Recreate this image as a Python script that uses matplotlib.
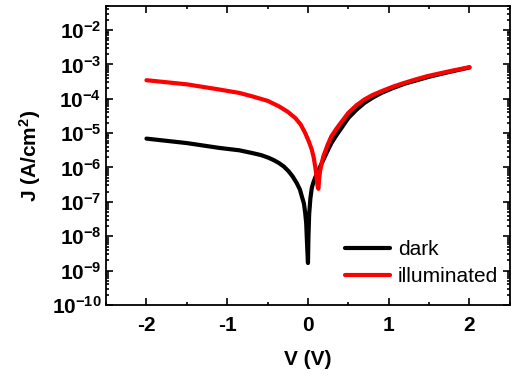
import numpy as np
import matplotlib
matplotlib.use("Agg")
from matplotlib import pyplot as plt
from matplotlib.ticker import MultipleLocator, LogLocator, NullFormatter

plt.rcParams['font.family'] = ['Liberation Sans', 'DejaVu Sans']
plt.rcParams['mathtext.fontset'] = 'custom'
plt.rcParams['mathtext.bf'] = 'Liberation Sans:bold'
plt.rcParams['mathtext.rm'] = 'Liberation Sans:bold'
plt.rcParams['mathtext.default'] = 'bf'
plt.rcParams['axes.unicode_minus'] = False

# dark J-V curve: V in volts, log10 of J (A/cm^2)
darkV = [-2.0, -1.5, -1.1, -0.85, -0.69, -0.58, -0.485, -0.42, -0.36, -0.3, -0.24, -0.19,
         -0.14, -0.1, -0.076, -0.05, -0.034, -0.022, -0.015, -0.008, 0.0, 0.006, 0.015,
         0.03, 0.047, 0.065, 0.088, 0.13, 0.17, 0.21, 0.25, 0.29, 0.35, 0.4, 0.5, 0.6,
         0.7, 0.8, 0.91, 1.05, 1.2, 1.35, 1.5, 1.75, 2.0]
darkLogJ = [-5.16, -5.29, -5.43, -5.50, -5.58, -5.64, -5.72, -5.79, -5.87, -5.97, -6.11,
            -6.26, -6.45, -6.64, -6.84, -7.05, -7.33, -7.62, -8.01, -8.40, -8.78, -8.0,
            -7.35, -6.9, -6.6, -6.45, -6.3, -6.08, -5.88, -5.68, -5.48, -5.29, -5.07,
            -4.9, -4.56, -4.32, -4.12, -3.97, -3.83, -3.69, -3.56, -3.46, -3.36, -3.22,
            -3.09]

# illuminated J-V curve
illumV = [-2.0, -1.5, -1.1, -0.85, -0.69, -0.5, -0.36, -0.25, -0.157, -0.09, -0.034,
          0.01, 0.047, 0.07, 0.088, 0.1, 0.11, 0.12, 0.129, 0.138, 0.15, 0.17, 0.19, 0.24,
          0.29, 0.35, 0.4, 0.5, 0.6, 0.7, 0.8, 0.91, 1.05, 1.19, 1.33, 1.48, 1.75, 2.0]
illumLogJ = [-3.46, -3.58, -3.73, -3.83, -3.93, -4.06, -4.22, -4.38, -4.56, -4.75, -5.0,
             -5.24, -5.48, -5.7, -5.95, -6.15, -6.38, -6.55, -6.62, -6.35, -6.1, -5.88,
             -5.68, -5.36, -5.09, -4.88, -4.72, -4.41, -4.19, -4.02, -3.89, -3.78, -3.65,
             -3.54, -3.44, -3.34, -3.2, -3.08]

darkJ = 10.0 ** np.array(darkLogJ)
illumJ = 10.0 ** np.array(illumLogJ)

fig = plt.figure(figsize=(5.15, 3.76), dpi=100)
ax = fig.add_axes([0.206, 0.189, 0.784, 0.795])

ax.plot(darkV, darkJ, color='black', lw=3, label='dark', solid_capstyle='round',
        solid_joinstyle='round')
ax.plot(illumV, illumJ, color='red', lw=3, label='illuminated', solid_capstyle='round',
        solid_joinstyle='round')

ax.set_yscale('log')
ax.set_xlim(-2.5, 2.5)
ax.set_ylim(1e-10, 5e-2)
ax.xaxis.set_major_locator(MultipleLocator(1))
ax.xaxis.set_minor_locator(MultipleLocator(0.5))
ax.yaxis.set_major_locator(LogLocator(base=10, numticks=20))
ax.yaxis.set_minor_locator(LogLocator(base=10, subs=np.arange(2, 10), numticks=20))
ax.yaxis.set_minor_formatter(NullFormatter())

ax.tick_params(which='both', direction='in', top=True, right=True, width=1.2)
ax.tick_params(which='major', length=5, labelsize=15)
ax.tick_params(which='minor', length=2.5)
ax.tick_params(axis='x', which='major', pad=8)
for lab in ax.get_xticklabels() + ax.get_yticklabels():
    lab.set_fontweight('bold')
for s in ax.spines.values():
    s.set_linewidth(1.3)

ax.set_xlabel('V (V)', fontsize=15, fontweight='bold', labelpad=11)
ax.set_ylabel(r'J (A/cm$^{\mathbf{2}}$)', fontsize=15, fontweight='bold', labelpad=6)

ax.legend(loc='lower right', bbox_to_anchor=(1.017, 0.0), frameon=False, fontsize=15,
          handlelength=2.2, handletextpad=0.35, labelspacing=0.38)

fig.savefig('out.png', dpi=100)
